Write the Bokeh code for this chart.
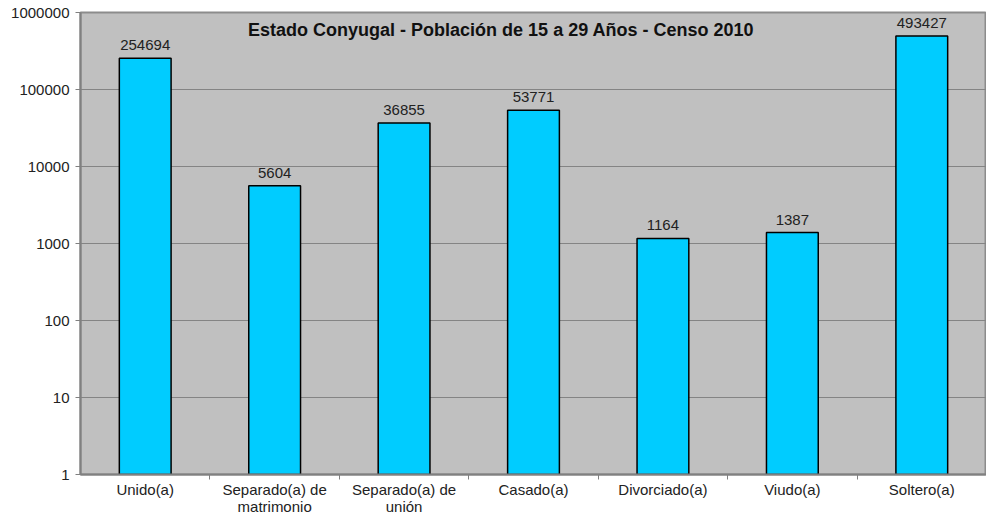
from bokeh.plotting import figure
from bokeh.models import FixedTicker, Range1d, ColumnDataSource, Label, NumeralTickFormatter, LinearAxis
from bokeh.embed import file_html
from bokeh.resources import INLINE
from bokeh.core.properties import value

categories = ["Unido(a)", "Separado(a) de matrimonio", "Separado(a) de unión", "Casado(a)",
              "Divorciado(a)", "Viudo(a)", "Soltero(a)"]
label_line1 = ["Unido(a)", "Separado(a) de", "Separado(a) de", "Casado(a)",
               "Divorciado(a)", "Viudo(a)", "Soltero(a)"]
label_line2 = ["", "matrimonio", "unión", "", "", "", ""]
values = [254694, 5604, 36855, 53771, 1164, 1387, 493427]
y_ticks = [1, 10, 100, 1000, 10000, 100000, 1000000]
title_text = "Estado Conyugal - Población de 15 a 29 Años - Censo 2010"

FONT = "Liberation Sans"
FS = "15px"

xs = [i + 0.5 for i in range(len(categories))]
src = ColumnDataSource(dict(x=xs, top=values, bottom=[1] * len(values),
                            label=[str(v) for v in values]))

p = figure(width=986, height=517, output_backend="svg", toolbar_location=None,
           y_axis_type="log", x_range=Range1d(0, len(categories)), y_range=Range1d(1, 1000000),
           min_border_left=80, min_border_right=0, min_border_top=12, min_border_bottom=0)
p.background_fill_color = "#C0C0C0"
p.border_fill_color = "white"
p.outline_line_color = "#8C8C8C"
p.outline_line_width = 2

p.vbar(x="x", top="top", bottom="bottom", width=0.4, source=src,
       fill_color="#00CCFF", line_color="black", line_width=1.5)
p.text(x="x", y="top", text="label", source=src, text_align="center", text_baseline="bottom",
       y_offset=-8, text_font=value(FONT), text_font_size=FS, text_color="#222222")

p.add_layout(Label(x=3.25, y=600000, text=title_text, text_align="center", text_baseline="middle",
                   text_font=FONT, text_font_size="18px", text_font_style="bold", text_color="#111111"))

p.xgrid.grid_line_color = None
p.ygrid.grid_line_color = "#848484"
p.ygrid.grid_line_width = 1
p.ygrid.ticker = FixedTicker(ticks=y_ticks)
p.yaxis.ticker = FixedTicker(ticks=y_ticks, minor_ticks=[])
p.yaxis.formatter = NumeralTickFormatter(format="0")
p.yaxis.axis_line_color = "#808080"
p.yaxis.axis_line_width = 2
p.yaxis.major_tick_line_color = "#808080"
p.yaxis.major_tick_in = 0
p.yaxis.major_tick_out = 5
p.yaxis.major_label_standoff = 6
p.yaxis.major_label_text_font = FONT
p.yaxis.major_label_text_font_size = FS
p.yaxis.major_label_text_color = "#222222"

p.xaxis.ticker = FixedTicker(ticks=xs, minor_ticks=[float(i) for i in range(1, len(categories))])
p.xaxis.major_label_overrides = {x: c for x, c in zip(xs, label_line1)}
p.xaxis.major_tick_line_color = None
p.xaxis.minor_tick_line_color = "#808080"
p.xaxis.minor_tick_in = 0
p.xaxis.minor_tick_out = 5
p.xaxis.axis_line_color = "#808080"
p.xaxis.axis_line_width = 2
p.xaxis.major_label_standoff = 0
p.xaxis.major_label_text_font = FONT
p.xaxis.major_label_text_font_size = FS
p.xaxis.major_label_text_color = "#222222"

ax2 = LinearAxis(ticker=FixedTicker(ticks=xs, minor_ticks=[]),
                 major_label_overrides={x: c for x, c in zip(xs, label_line2)})
ax2.axis_line_color = None
ax2.major_tick_line_color = None
ax2.minor_tick_line_color = None
ax2.major_tick_in = 0
ax2.major_tick_out = 0
ax2.major_label_standoff = -3
ax2.major_label_text_font = FONT
ax2.major_label_text_font_size = FS
ax2.major_label_text_color = "#222222"
p.add_layout(ax2, "below")

open("out.html", "w").write(file_html(p, INLINE))
